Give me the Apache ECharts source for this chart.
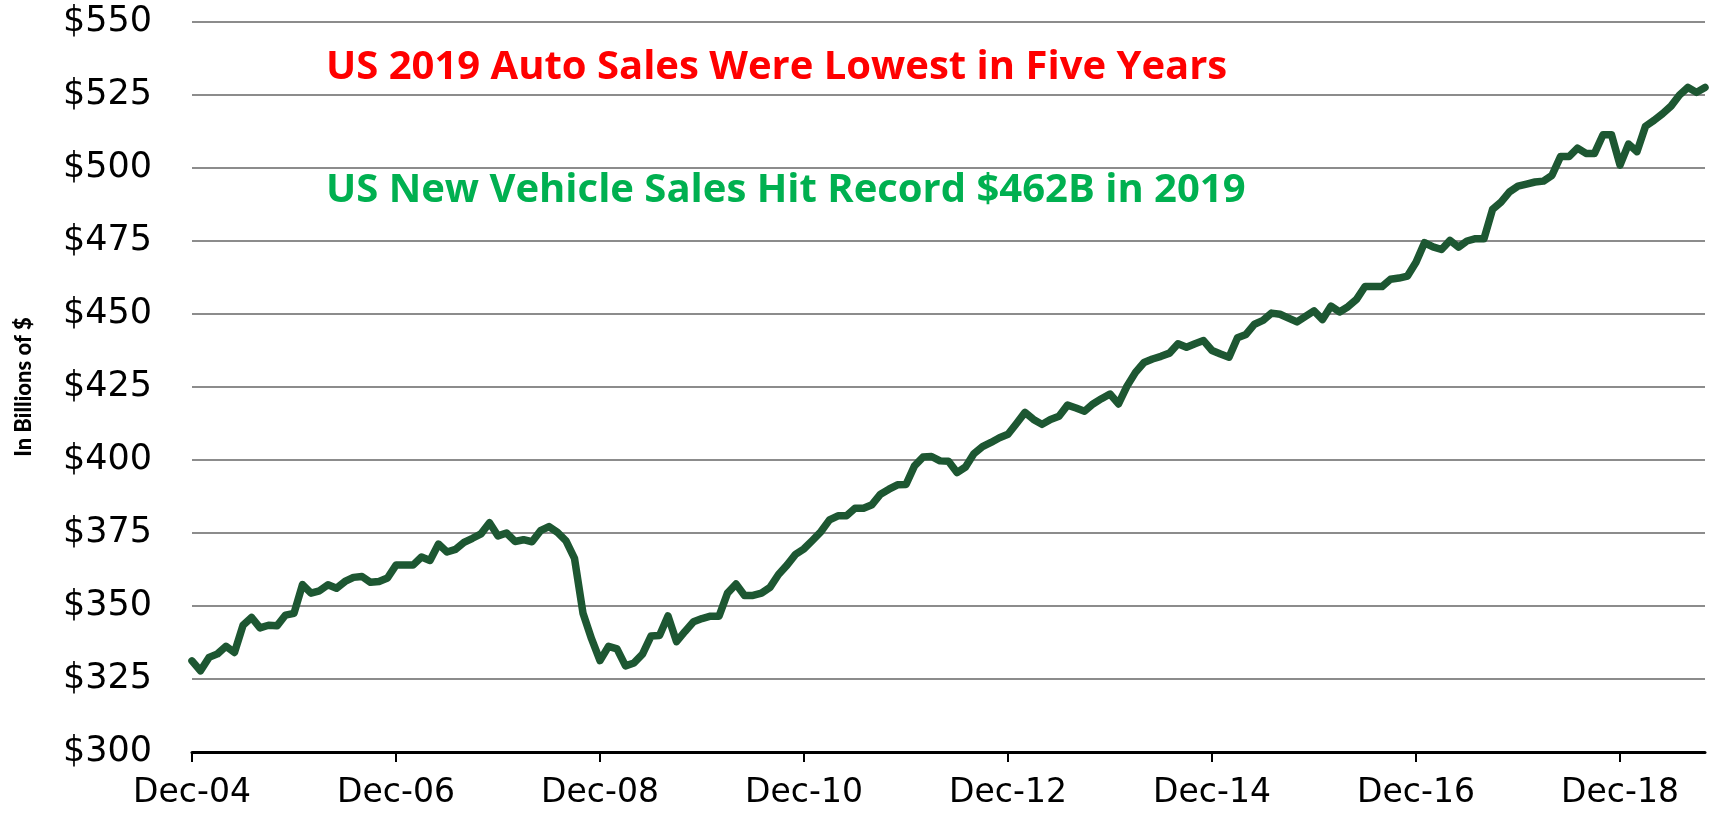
<!DOCTYPE html>
<html>
<head>
<meta charset="utf-8">
<script src="https://cdn.jsdelivr.net/npm/echarts@6/dist/echarts.min.js"></script>
<style>
  html, body { margin: 0; padding: 0; background: #fff; }
  #main { width: 1711px; height: 813px; }
</style>
</head>
<body>
<div id="main"></div>
<script>
// monthly sales, Dec-04 .. Oct-19 (billions of $)
var sales = [
  331.2, 327.8, 332.4, 333.6, 336.2, 334.1, 343.4, 346.1, 342.5, 343.4, 343.2, 346.9,
  347.5, 357.3, 354.4, 355.2, 357.3, 356.1, 358.4, 359.8, 360.1, 358.1, 358.4, 359.6,
  364.0, 364.0, 364.0, 366.8, 365.6, 371.2, 368.5, 369.4, 371.8, 373.2, 374.7, 378.5,
  374.0, 375.0, 372.1, 372.7, 372.0, 375.8, 377.2, 375.2, 372.3, 366.3, 347.5, 338.8,
  331.3, 336.2, 335.3, 329.5, 330.5, 333.5, 339.7, 339.9, 346.6, 337.8, 341.3, 344.6,
  345.7, 346.5, 346.5, 354.4, 357.5, 353.6, 353.6, 354.4, 356.4, 360.8, 364.0, 367.7,
  369.6, 372.5, 375.5, 379.5, 380.9, 380.9, 383.5, 383.5, 384.7, 388.3, 390.0, 391.5,
  391.6, 398.0, 401.0, 401.2, 399.7, 399.6, 395.7, 397.6, 402.2, 404.6, 406.0, 407.6,
  408.8, 412.5, 416.3, 413.9, 412.2, 413.9, 415.0, 418.8, 417.8, 416.7, 419.2, 421.0,
  422.6, 419.2, 425.3, 430.0, 433.4, 434.6, 435.5, 436.6, 439.8, 438.6, 439.8, 440.9,
  437.5, 436.3, 435.2, 441.9, 443.0, 446.5, 447.8, 450.3, 449.9, 448.6, 447.3, 449.2,
  451.1, 448.1, 452.7, 450.7, 452.5, 455.0, 459.4, 459.4, 459.4, 461.9, 462.3, 463.0,
  467.7, 474.4, 473.0, 472.1, 475.2, 472.9, 475.0, 475.8, 475.8, 485.8, 488.3, 491.8,
  493.8, 494.5, 495.2, 495.5, 497.5, 503.9, 503.9, 506.8, 505.0, 505.0, 511.4, 511.4,
  501.0, 508.2, 505.6, 514.3, 516.3, 518.6, 521.2, 525.0, 527.6, 525.9, 527.6
];

var monthNames = ['Jan', 'Feb', 'Mar', 'Apr', 'May', 'Jun', 'Jul', 'Aug', 'Sep', 'Oct', 'Nov', 'Dec'];
var startYear = 2004, startMonth = 11; // Dec-04
var labelEvery = 24; // one label every two years

var headline = 'US 2019 Auto Sales Were Lowest in Five Years';
var subline = 'US New Vehicle Sales Hit Record $462B in 2019';

var yMin = 300, yMax = 550, yStep = 25;

// category labels like "Dec-04"
var months = [];
for (var k = 0; k < sales.length; k++) {
  var m = (startMonth + k) % 12;
  var y = startYear + Math.floor((startMonth + k) / 12);
  months.push(monthNames[m] + '-' + String(y % 100).padStart(2, '0'));
}

function everyTwoYears(index) {
  return index % labelEvery === 0;
}

var myChart = echarts.init(document.getElementById('main'));

var option = {
  backgroundColor: '#ffffff',
  animation: false,
  title: [{
    text: headline,
    left: 321,
    top: 43,
    textStyle: { color: '#ff0000', fontFamily: 'Open Sans', fontWeight: 'bold', fontSize: 40 }
  }, {
    text: subline,
    left: 321,
    top: 166,
    textStyle: { color: '#00b050', fontFamily: 'Open Sans', fontWeight: 'bold', fontSize: 40 }
  }],
  grid: {
    left: 192,
    right: 6,
    top: 22,
    bottom: 61
  },
  xAxis: {
    type: 'category',
    data: months,
    boundaryGap: false,
    axisLine: { lineStyle: { color: '#000', width: 3 } },
    axisTick: { show: true, interval: everyTwoYears, length: 10, lineStyle: { color: '#000', width: 2 } },
    axisLabel: {
      interval: everyTwoYears,
      margin: 25,
      color: '#000',
      fontFamily: 'DejaVu Sans',
      fontSize: 33
    },
    splitLine: { show: false }
  },
  yAxis: {
    type: 'value',
    min: yMin,
    max: yMax,
    interval: yStep,
    name: 'In Billions of $',
    nameLocation: 'middle',
    nameGap: 157,
    nameRotate: 90,
    nameTextStyle: {
      color: '#000',
      fontFamily: 'Lato',
      fontWeight: 900,
      fontSize: 22
    },
    axisLine: { show: false },
    axisTick: { show: false },
    axisLabel: {
      margin: 40,
      color: '#000',
      fontFamily: 'DejaVu Sans',
      fontSize: 35,
      formatter: function (v) { return '$' + v; }
    },
    splitLine: { lineStyle: { color: '#8c8c8c', width: 2 } }
  },
  series: [{
    type: 'line',
    data: sales,
    symbol: 'none',
    smooth: false,
    lineStyle: { color: '#1d5732', width: 7.5, cap: 'round', join: 'round' },
    z: 5
  }]
};

myChart.setOption(option);
</script>
</body>
</html>
